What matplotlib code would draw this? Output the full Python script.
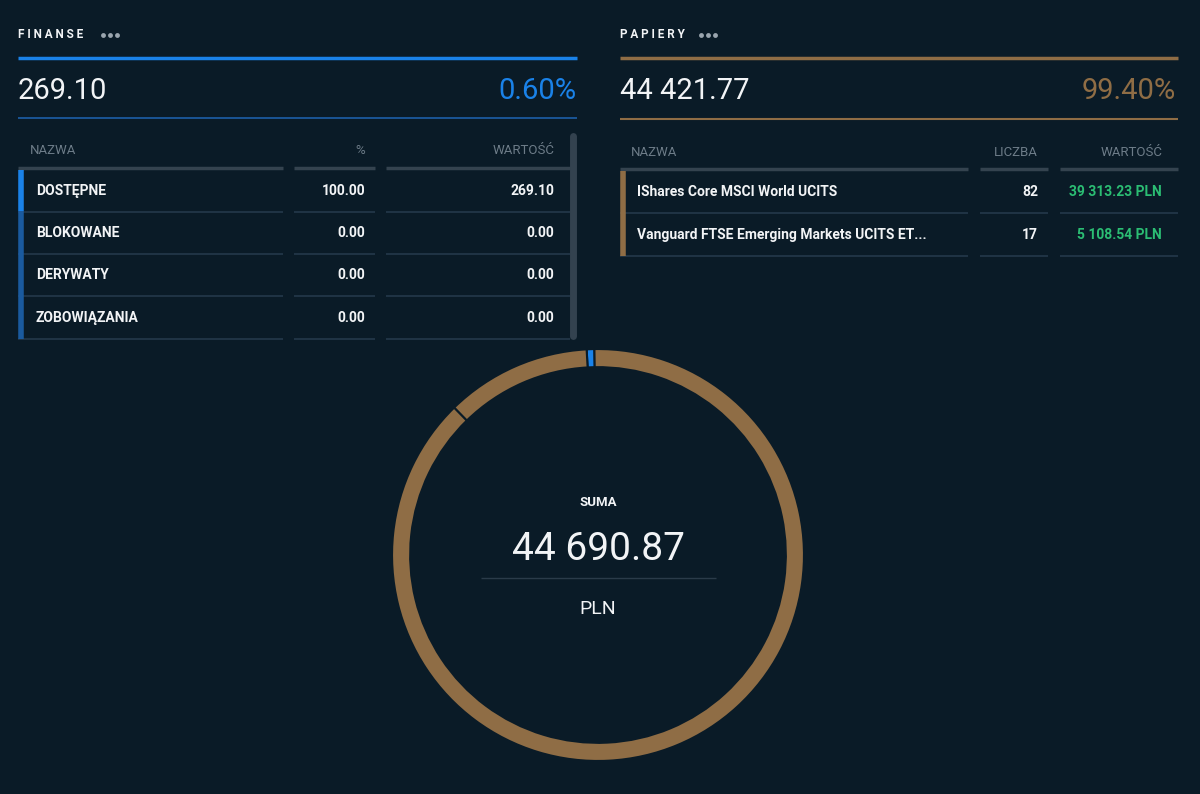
import matplotlib
matplotlib.use("Agg")
import matplotlib.pyplot as plt

plt.rcParams['font.family'] = ['Roboto', 'DejaVu Sans']

BG = '#0a1b27'
BLUE = '#1a82e8'
GOLD = '#8f6d45'
GREEN = '#2bbd73'
GRAY = '#6d7c88'
SEP = '#24384a'
WHITE = '#f2f4f6'

finanse_total = "269.10"
finanse_pct = "0.60%"
finanse_names = ["DOSTĘPNE", "BLOKOWANE", "DERYWATY", "ZOBOWIĄZANIA"]
finanse_pcts = ["100.00", "0.00", "0.00", "0.00"]
finanse_vals = ["269.10", "0.00", "0.00", "0.00"]

papiery_total = "44 421.77"
papiery_pct = "99.40%"
papiery_names = ["IShares Core MSCI World UCITS", "Vanguard FTSE Emerging Markets UCITS ET..."]
papiery_counts = ["82", "17"]
papiery_vals = ["39 313.23 PLN", "5 108.54 PLN"]

# donut values (counter-clockwise from top)
donut_labels = ["Finanse", "Vanguard FTSE EM", "IShares MSCI World"]
donut_values = [269.10, 5108.54, 39313.23]
donut_colors = [BLUE, GOLD, GOLD]
suma = "44 690.87"

fig = plt.figure(figsize=(12, 7.94), dpi=100, facecolor=BG)
ax = fig.add_axes([0, 0, 1, 1])
ax.set_xlim(0, 1200); ax.set_ylim(794, 0); ax.axis('off')
ax.set_facecolor(BG)

def hline(x0, x1, y, c, lw):
    ax.plot([x0, x1], [y, y], color=c, lw=lw, solid_capstyle='butt')

def dots(x, y):
    for i in range(3):
        ax.plot(x + i * 7, y, 'o', ms=3.5, color='#9aa5ae', mec='none')

# ---- FINANSE panel
ax.text(18, 34, "F I N A N S E", color=WHITE, fontsize=8.5, fontweight='bold', va='center')
dots(103, 35)
hline(18, 577, 58, BLUE, 2.5)
ax.text(18, 91, finanse_total, color=WHITE, fontsize=21, va='center')
ax.text(576, 91, finanse_pct, color=BLUE, fontsize=21, va='center', ha='right')
hline(18, 577, 118, '#1d5fa8', 1.2)
ax.plot([573, 573], [136, 336], color='#33424f', lw=5, solid_capstyle='round')
ax.text(30, 151, "NAZWA", color=GRAY, fontsize=9.5, va='center')
ax.text(365, 151, "%", color=GRAY, fontsize=9.5, va='center', ha='right')
ax.text(554, 151, "WARTOŚĆ", color=GRAY, fontsize=9.5, va='center', ha='right')
cols_l = [(18, 283), (294, 375), (386, 570)]
for a, b in cols_l:
    hline(a, b, 168, '#34434f', 2.5)
row_y = [191, 233, 275, 318]
for i, (n, p, v) in enumerate(zip(finanse_names, finanse_pcts, finanse_vals)):
    y = row_y[i]
    ax.text(36, y, n, color=WHITE, fontsize=10, fontweight='bold', va='center')
    ax.text(365, y, p, color=WHITE, fontsize=10, fontweight='bold', va='center', ha='right')
    ax.text(554, y, v, color=WHITE, fontsize=10, fontweight='bold', va='center', ha='right')
    for a, b in cols_l:
        hline(a, b, y + 21, SEP, 1.2)
ax.plot([20.5, 20.5], [170, 211], color=BLUE, lw=4, solid_capstyle='butt')
ax.plot([20.5, 20.5], [211, 339], color='#1a5a9e', lw=4, solid_capstyle='butt')

# ---- PAPIERY panel
ax.text(620, 34, "P A P I E R Y", color=WHITE, fontsize=8.5, fontweight='bold', va='center')
dots(701, 35)
hline(620, 1178, 58, GOLD, 2.5)
ax.text(620, 91, papiery_total, color=WHITE, fontsize=21, va='center')
ax.text(1176, 91, papiery_pct, color=GOLD, fontsize=21, va='center', ha='right')
hline(620, 1178, 119, GOLD, 1.5)
ax.text(631, 152, "NAZWA", color=GRAY, fontsize=9.5, va='center')
ax.text(1038, 152, "LICZBA", color=GRAY, fontsize=9.5, va='center', ha='right')
ax.text(1162, 152, "WARTOŚĆ", color=GRAY, fontsize=9.5, va='center', ha='right')
cols_r = [(620, 968), (980, 1048), (1060, 1178)]
for a, b in cols_r:
    hline(a, b, 169, '#34434f', 2.5)
row_y2 = [192, 235]
for i, (n, c, v) in enumerate(zip(papiery_names, papiery_counts, papiery_vals)):
    y = row_y2[i]
    ax.text(637, y, n, color=WHITE, fontsize=10, fontweight='bold', va='center')
    ax.text(1038, y, c, color=WHITE, fontsize=10, fontweight='bold', va='center', ha='right')
    ax.text(1162, y, v, color=GREEN, fontsize=10, fontweight='bold', va='center', ha='right')
    for a, b in cols_r:
        hline(a, b, y + 21, SEP, 1.2)
ax.plot([622.5, 622.5], [171, 256], color=GOLD, lw=4, solid_capstyle='butt')

# ---- donut
cx, cy, R = 598, 555, 207
pax = fig.add_axes([(cx - R) / 1200, 1 - (cy + R) / 794, 2 * R / 1200, 2 * R / 794])
pax.pie(donut_values, colors=donut_colors, startangle=91, counterclock=True,
        radius=1.0, wedgeprops=dict(width=0.088, edgecolor=BG, linewidth=1.5))
pax.set_xlim(-1.005, 1.005); pax.set_ylim(-1.005, 1.005)
pax.set_aspect('auto')
pax.axis('off')

ax.text(cx, 503, "SUMA", color=WHITE, fontsize=9.5, fontweight='bold', va='center', ha='center')
ax.text(cx, 549, suma, color=WHITE, fontsize=28, va='center', ha='center')
hline(481, 716, 578, '#2a3b49', 1)
ax.text(cx, 609, "PLN", color=WHITE, fontsize=14, va='center', ha='center')

fig.savefig("out.png", dpi=100, facecolor=BG)
